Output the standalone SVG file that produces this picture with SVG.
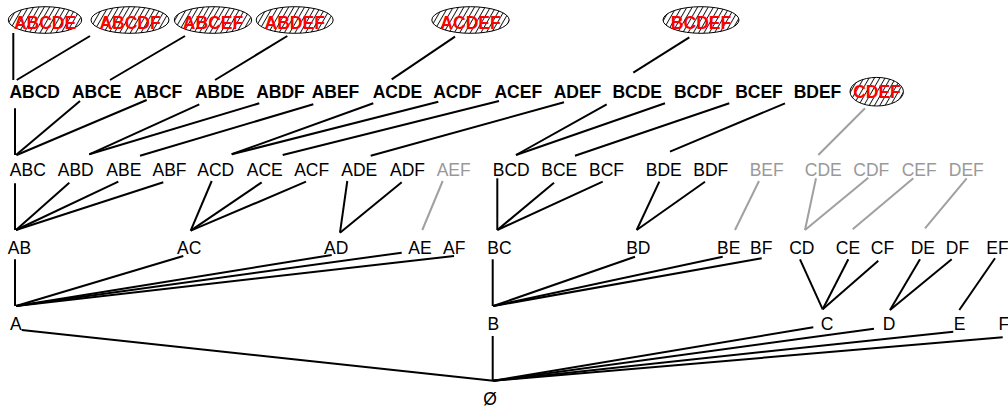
<svg xmlns="http://www.w3.org/2000/svg" width="1008" height="409" viewBox="0 0 1008 409">
<defs>
<pattern id="hatch" patternUnits="userSpaceOnUse" width="4.6" height="10" patternTransform="rotate(30)">
<rect width="4.6" height="10" fill="#fff"/>
<line x1="0.5" y1="0" x2="0.5" y2="10" stroke="#000" stroke-width="0.9"/>
</pattern>
<style>
text{font-family:"Liberation Sans",Arial,sans-serif;font-size:17.5px;text-anchor:middle;fill:#000}
.b{font-weight:bold}
.r{font-weight:bold;fill:#ff0000}
.g{fill:#999999}
.e{fill:url(#hatch);stroke:#000;stroke-width:1}
#edges line{stroke:#000;stroke-width:2}
#edges line.g{stroke:#a0a0a0}
</style>
</defs>
<rect width="1008" height="409" fill="#fff"/>
<g id="edges">
<line x1="13.3" y1="33" x2="13.3" y2="80"/>
<line x1="90" y1="36" x2="16.7" y2="80"/>
<line x1="185" y1="36" x2="110" y2="80"/>
<line x1="287.3" y1="36" x2="215" y2="80"/>
<line x1="455" y1="36.7" x2="391.7" y2="79.3"/>
<line x1="689.3" y1="37.3" x2="633.3" y2="72.7"/>
<line x1="15" y1="108.3" x2="15" y2="155"/>
<line x1="80" y1="101" x2="16" y2="155"/>
<line x1="146.7" y1="100" x2="16.7" y2="155"/>
<line x1="199.3" y1="104.3" x2="89.3" y2="154.3"/>
<line x1="259.3" y1="103.3" x2="89.3" y2="154.3"/>
<line x1="313.3" y1="104.3" x2="140" y2="155.7"/>
<line x1="373.3" y1="103.3" x2="231.7" y2="154.3"/>
<line x1="438.3" y1="101.7" x2="231.7" y2="154.3"/>
<line x1="499" y1="101" x2="282.7" y2="155"/>
<line x1="564" y1="102.3" x2="370.7" y2="155.7"/>
<line x1="606.7" y1="104.3" x2="516" y2="155"/>
<line x1="665" y1="103.3" x2="516" y2="155"/>
<line x1="729.3" y1="103.3" x2="575" y2="155.7"/>
<line x1="785" y1="103.3" x2="670" y2="151.7"/>
<line class="g" x1="865" y1="108.3" x2="818.3" y2="155"/>
<line x1="15" y1="183.3" x2="15" y2="230"/>
<line x1="69.3" y1="182.7" x2="16" y2="230"/>
<line x1="118.3" y1="181.7" x2="16" y2="230"/>
<line x1="163.3" y1="182.3" x2="16" y2="230"/>
<line x1="211.7" y1="181" x2="190.7" y2="230.7"/>
<line x1="261.7" y1="182.3" x2="190.7" y2="230.7"/>
<line x1="306" y1="181.7" x2="190.7" y2="230.7"/>
<line x1="347.3" y1="181" x2="340" y2="232.7"/>
<line x1="401.7" y1="182.3" x2="340" y2="232.7"/>
<line class="g" x1="442.7" y1="181" x2="422.3" y2="230"/>
<line x1="497.3" y1="178.3" x2="497.3" y2="230"/>
<line x1="554" y1="182.7" x2="497.3" y2="230"/>
<line x1="602.7" y1="181.7" x2="497.3" y2="230"/>
<line x1="659.3" y1="181.7" x2="636.7" y2="230"/>
<line x1="705" y1="181.7" x2="636.7" y2="230"/>
<line class="g" x1="759" y1="181" x2="735" y2="230"/>
<line class="g" x1="816" y1="178.3" x2="805" y2="230"/>
<line class="g" x1="868.3" y1="177.7" x2="805" y2="230"/>
<line class="g" x1="913.3" y1="178.3" x2="852.7" y2="229.3"/>
<line class="g" x1="966.7" y1="178.3" x2="925" y2="228.3"/>
<line x1="15" y1="259.3" x2="15" y2="306"/>
<line x1="183.3" y1="256" x2="16" y2="306"/>
<line x1="331.7" y1="255" x2="16" y2="306"/>
<line x1="401.7" y1="252.7" x2="16" y2="306"/>
<line x1="454" y1="256" x2="16" y2="306"/>
<line x1="492.7" y1="259.3" x2="492.7" y2="306"/>
<line x1="635" y1="256.7" x2="493.3" y2="306"/>
<line x1="722.7" y1="256.7" x2="493.3" y2="306"/>
<line x1="761.7" y1="258.3" x2="493.3" y2="306"/>
<line x1="800" y1="259.3" x2="822.7" y2="309.3"/>
<line x1="848.3" y1="259.3" x2="822.7" y2="309.3"/>
<line x1="878.3" y1="260.7" x2="822.7" y2="309.3"/>
<line x1="920" y1="259.3" x2="890" y2="310"/>
<line x1="951.7" y1="259.3" x2="890" y2="310"/>
<line x1="995" y1="258.3" x2="959.3" y2="310"/>
<line x1="21.7" y1="330" x2="493.3" y2="380.7"/>
<line x1="492.7" y1="336" x2="492.7" y2="380.7"/>
<line x1="813.3" y1="327.3" x2="493.3" y2="380.7"/>
<line x1="874" y1="328.7" x2="493.3" y2="380.7"/>
<line x1="953.3" y1="331.7" x2="493.3" y2="380.7"/>
<line x1="1002.7" y1="337.3" x2="493.3" y2="380.7"/>
</g>
<g id="n-ABCDE"><ellipse class="e" cx="45" cy="20" rx="36.7" ry="13.3"/><text class="r" x="45" y="29">ABCDE</text></g>
<g id="n-ABCDF"><ellipse class="e" cx="130" cy="20" rx="39" ry="13.3"/><text class="r" x="130" y="29">ABCDF</text></g>
<g id="n-ABCEF"><ellipse class="e" cx="213" cy="20" rx="38.7" ry="13.3"/><text class="r" x="213" y="29">ABCEF</text></g>
<g id="n-ABDEF"><ellipse class="e" cx="294.7" cy="20" rx="38.5" ry="13.3"/><text class="r" x="294.7" y="29">ABDEF</text></g>
<g id="n-ACDEF"><ellipse class="e" cx="470.5" cy="20" rx="38.7" ry="13.3"/><text class="r" x="470.5" y="29">ACDEF</text></g>
<g id="n-BCDEF"><ellipse class="e" cx="701" cy="20" rx="38" ry="13.3"/><text class="r" x="701" y="29">BCDEF</text></g>
<g id="n-CDEF"><ellipse class="e" cx="876.7" cy="91.7" rx="26.7" ry="14.3"/><text class="r" x="877" y="97.5">CDEF</text></g>
<g id="n-ABCD"><text class="b" x="34.7" y="97.6">ABCD</text></g>
<g id="n-ABCE"><text class="b" x="96.7" y="97.6">ABCE</text></g>
<g id="n-ABCF"><text class="b" x="158" y="97.6">ABCF</text></g>
<g id="n-ABDE"><text class="b" x="219.7" y="97.6">ABDE</text></g>
<g id="n-ABDF"><text class="b" x="280.5" y="97.6">ABDF</text></g>
<g id="n-ABEF"><text class="b" x="335.5" y="97.6">ABEF</text></g>
<g id="n-ACDE"><text class="b" x="397.5" y="97.6">ACDE</text></g>
<g id="n-ACDF"><text class="b" x="457.5" y="97.6">ACDF</text></g>
<g id="n-ACEF"><text class="b" x="518.3" y="97.6">ACEF</text></g>
<g id="n-ADEF"><text class="b" x="577.5" y="97.6">ADEF</text></g>
<g id="n-BCDE"><text class="b" x="637.2" y="97.6">BCDE</text></g>
<g id="n-BCDF"><text class="b" x="698.3" y="97.6">BCDF</text></g>
<g id="n-BCEF"><text class="b" x="759" y="97.6">BCEF</text></g>
<g id="n-BDEF"><text class="b" x="817.5" y="97.6">BDEF</text></g>
<g id="n-ABC"><text x="27.8" y="175.5">ABC</text></g>
<g id="n-ABD"><text x="75.7" y="175.5">ABD</text></g>
<g id="n-ABE"><text x="123.8" y="175.5">ABE</text></g>
<g id="n-ABF"><text x="169.5" y="175.5">ABF</text></g>
<g id="n-ACD"><text x="215.8" y="175.5">ACD</text></g>
<g id="n-ACE"><text x="264.7" y="175.5">ACE</text></g>
<g id="n-ACF"><text x="311.7" y="175.5">ACF</text></g>
<g id="n-ADE"><text x="359.3" y="175.5">ADE</text></g>
<g id="n-ADF"><text x="407.5" y="175.5">ADF</text></g>
<g id="n-AEF"><text class="g" x="453.7" y="175.5">AEF</text></g>
<g id="n-BCD"><text x="511.3" y="175.5">BCD</text></g>
<g id="n-BCE"><text x="559.2" y="175.5">BCE</text></g>
<g id="n-BCF"><text x="606.5" y="175.5">BCF</text></g>
<g id="n-BDE"><text x="663.7" y="175.5">BDE</text></g>
<g id="n-BDF"><text x="710.8" y="175.5">BDF</text></g>
<g id="n-BEF"><text class="g" x="766.7" y="175.5">BEF</text></g>
<g id="n-CDE"><text class="g" x="823.3" y="175.5">CDE</text></g>
<g id="n-CDF"><text class="g" x="871.3" y="175.5">CDF</text></g>
<g id="n-CEF"><text class="g" x="919.2" y="175.5">CEF</text></g>
<g id="n-DEF"><text class="g" x="966.3" y="175.5">DEF</text></g>
<g id="n-AB"><text x="19.5" y="254">AB</text></g>
<g id="n-AC"><text x="189.2" y="254">AC</text></g>
<g id="n-AD"><text x="336.2" y="254">AD</text></g>
<g id="n-AE"><text x="420" y="254">AE</text></g>
<g id="n-AF"><text x="454.2" y="254">AF</text></g>
<g id="n-BC"><text x="499.5" y="254">BC</text></g>
<g id="n-BD"><text x="638.3" y="254">BD</text></g>
<g id="n-BE"><text x="728.7" y="254">BE</text></g>
<g id="n-BF"><text x="761.2" y="254">BF</text></g>
<g id="n-CD"><text x="801.8" y="254">CD</text></g>
<g id="n-CE"><text x="848" y="254">CE</text></g>
<g id="n-CF"><text x="882.5" y="254">CF</text></g>
<g id="n-DE"><text x="922.8" y="254">DE</text></g>
<g id="n-DF"><text x="957.5" y="254">DF</text></g>
<g id="n-EF"><text x="997.5" y="254">EF</text></g>
<g id="n-A"><text x="15.8" y="330">A</text></g>
<g id="n-B"><text x="493.3" y="330">B</text></g>
<g id="n-C"><text x="827" y="330">C</text></g>
<g id="n-D"><text x="889" y="330">D</text></g>
<g id="n-E"><text x="959.5" y="330">E</text></g>
<g id="n-F"><text x="1003.8" y="330">F</text></g>
<g id="n-empty"><text x="490" y="404.5">Ø</text></g>
</svg>
